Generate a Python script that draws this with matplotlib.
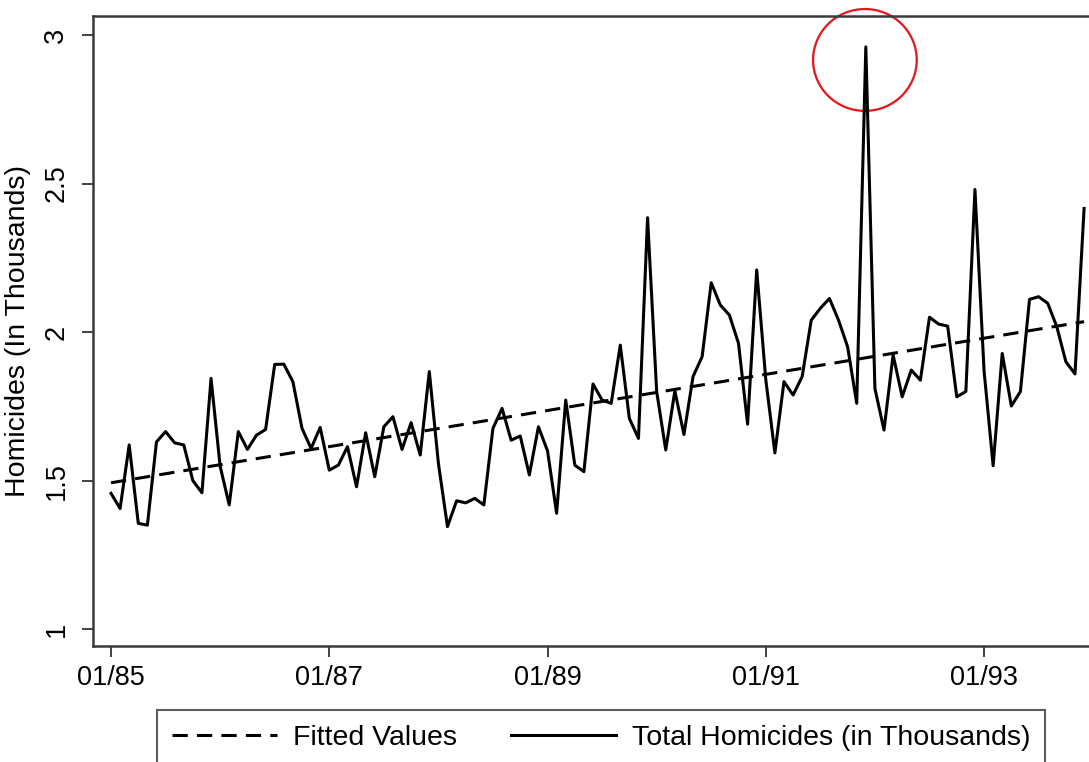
import numpy as np
import matplotlib
matplotlib.use("Agg")
import matplotlib.pyplot as plt
from matplotlib.lines import Line2D
from matplotlib.patches import Ellipse

plt.rcParams['font.family'] = ['Liberation Sans', 'DejaVu Sans']

# monthly totals, 01/1985 - 12/1993 (thousands)
homicides = [
    1.457, 1.406, 1.620, 1.356, 1.350, 1.630, 1.665, 1.627, 1.620, 1.500, 1.459, 1.844,
    1.548, 1.418, 1.665, 1.605, 1.653, 1.672, 1.891, 1.892, 1.833, 1.676, 1.608, 1.679,
    1.535, 1.552, 1.614, 1.479, 1.661, 1.513, 1.681, 1.715, 1.605, 1.695, 1.586, 1.867,
    1.558, 1.345, 1.432, 1.425, 1.440, 1.418, 1.676, 1.743, 1.636, 1.650, 1.519, 1.681,
    1.600, 1.390, 1.771, 1.552, 1.530, 1.825, 1.771, 1.760, 1.956, 1.709, 1.642, 2.385,
    1.800, 1.603, 1.802, 1.655, 1.850, 1.917, 2.166, 2.091, 2.057, 1.962, 1.690, 2.209,
    1.840, 1.593, 1.833, 1.788, 1.850, 2.040, 2.080, 2.113, 2.040, 1.950, 1.760, 2.960,
    1.810, 1.670, 1.923, 1.782, 1.872, 1.838, 2.050, 2.027, 2.020, 1.782, 1.800, 2.480,
    1.870, 1.550, 1.928, 1.751, 1.800, 2.110, 2.119, 2.097, 2.018, 1.900, 1.859, 2.416,
]
months = np.arange(len(homicides))

# fitted trend at first and last month
fit_ends = [1.4926, 2.035]

xtick_pos = [0, 24, 48, 72, 96]
xtick_labels = ['01/85', '01/87', '01/89', '01/91', '01/93']
ytick_pos = [1, 1.5, 2, 2.5, 3]
ytick_labels = ['1', '1.5', '2', '2.5', '3']

fig = plt.figure(figsize=(10.89, 7.62), dpi=100)
ax = fig.add_axes([0.0854, 0.1522, 0.9348, 0.8268])

ax.plot([months[0], months[-1]], fit_ends, color='black', lw=2.2, dashes=(5, 3))
ax.plot(months, homicides, color='black', lw=2.2)

# mark the largest month
peak = int(np.argmax(homicides))
ax.add_patch(Ellipse((peak - 0.1, homicides[peak] - 0.044), 11.4, 0.343,
                     fill=False, edgecolor='#e8141b', lw=1.6, clip_on=False))

ax.set_xlim(-1.98, 109.96)
ax.set_ylim(0.943, 3.064)
ax.set_xticks(xtick_pos)
ax.set_xticklabels(xtick_labels, fontsize=19.5)
ax.set_yticks(ytick_pos)
ax.set_yticklabels(ytick_labels, fontsize=19.5, rotation=90, va='center')
ax.tick_params(axis='both', length=8, width=1.3, color='#333333')
ax.tick_params(axis='x', pad=6)
ax.tick_params(axis='y', pad=9)
ax.set_ylabel('Homicides (In Thousands)', fontsize=20.5, labelpad=9)

for side in ['left', 'bottom', 'top']:
    ax.spines[side].set_linewidth(1.8)
    ax.spines[side].set_color('#3a3a3a')
ax.spines['right'].set_visible(False)

handles = [Line2D([], [], color='black', lw=2.2, dashes=(5, 3)),
           Line2D([], [], color='black', lw=2.2)]
leg = ax.legend(handles, ['Fitted Values', 'Total Homicides (in Thousands)'],
                ncol=2, loc='upper left', bbox_to_anchor=(0.144, 0.068),
                bbox_transform=fig.transFigure, borderaxespad=0,
                fontsize=20.5, handlelength=3.7, handletextpad=0.55,
                columnspacing=1.9, borderpad=0.52, fancybox=False,
                edgecolor='#333333')
leg.get_frame().set_linewidth(1.5)

fig.savefig('out.png', dpi=100, facecolor='white')
